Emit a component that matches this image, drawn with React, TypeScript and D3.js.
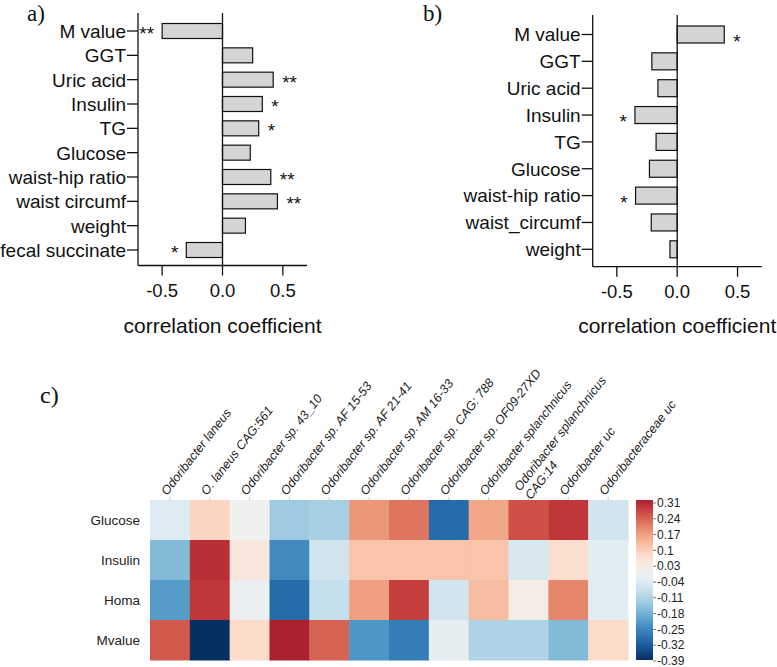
import React from 'react'
import { scaleLinear, scalePoint, scaleBand, scaleDiverging, interpolateRdBu, range } from 'd3'

// panel a
const catsA = ['M value', 'GGT', 'Uric acid', 'Insulin', 'TG', 'Glucose', 'waist-hip ratio', 'waist circumf', 'weight', 'fecal succinate']
const valsA = [-0.5, 0.25, 0.42, 0.33, 0.3, 0.23, 0.4, 0.455, 0.19, -0.3]
const starsA = ['**', '', '**', '*', '*', '', '**', '**', '', '*']

// panel b
const catsB = ['M value', 'GGT', 'Uric acid', 'Insulin', 'TG', 'Glucose', 'waist-hip ratio', 'waist_circumf', 'weight']
const valsB = [0.39, -0.21, -0.16, -0.35, -0.175, -0.23, -0.345, -0.215, -0.06]
const starsB = ['*', '', '', '*', '', '', '*', '', '']

const xTicks = [-0.5, 0, 0.5]

// panel c
const taxa = [
  'Odoribacter laneus',
  'O. laneus CAG:561',
  'Odoribacter sp. 43_10',
  'Odoribacter sp. AF 15-53',
  'Odoribacter sp. AF 21-41',
  'Odoribacter sp. AM 16-33',
  'Odoribacter sp. CAG: 788',
  'Odoribacter sp. OF09-27XD',
  'Odoribacter splanchnicus',
  'Odoribacter splanchnicus\nCAG:14',
  'Odoribacter uc',
  'Odoribacteraceae uc'
]
const traits = ['Glucose', 'Insulin', 'Homa', 'Mvalue']
const glucoseRow = [-0.05, 0.08, -0.01, -0.14, -0.13, 0.17, 0.21, -0.3, 0.15, 0.25, 0.28, -0.07]
const insulinRow = [-0.17, 0.29, 0.04, -0.25, -0.07, 0.11, 0.11, 0.11, 0.11, -0.06, 0.06, -0.04]
const homaRow = [-0.22, 0.28, -0.02, -0.3, -0.09, 0.16, 0.27, -0.07, 0.12, 0.02, 0.19, -0.04]
const mvalueRow = [0.24, -0.39, 0.07, 0.31, 0.23, -0.23, -0.27, -0.03, -0.12, -0.12, -0.17, 0.07]
const cbTicks = [0.31, 0.24, 0.17, 0.1, 0.03, -0.04, -0.11, -0.18, -0.25, -0.32, -0.39]

const SANS = '"Liberation Sans", Arial, sans-serif'
const SERIF = '"Liberation Serif", "Times New Roman", serif'

const fmt = (v: number) => v.toFixed(1)

const BarPanel: React.FC<{
  cats: string[]
  vals: number[]
  stars: string[]
  left: number
  right: number
  top: number
  bottom: number
  first: number
  last: number
  barH: number
  starDy: number
}> = ({ cats, vals, stars, left, right, top, bottom, first, last, barH, starDy }) => {
  const x = scaleLinear().domain([-0.7, 0.7]).range([left, right])
  const y = scalePoint<string>().domain(cats).range([first, last])
  return (
    <g>
      {cats.map((c, i) => {
        const v = vals[i]
        const x0 = x(0)
        const x1 = x(v)
        return (
          <rect
            key={c}
            x={Math.min(x0, x1)}
            y={(y(c) as number) - barH / 2}
            width={Math.abs(x1 - x0)}
            height={barH}
            fill="#d4d4d4"
            stroke="#111"
            strokeWidth={1.2}
          />
        )
      })}
      {cats.map((c, i) =>
        stars[i] ? (
          <text
            key={'s' + c}
            x={vals[i] > 0 ? x(vals[i]) + 9 : x(vals[i]) - 8}
            y={(y(c) as number) + starDy}
            textAnchor={vals[i] > 0 ? 'start' : 'end'}
            fontSize={19}
            fontFamily={SANS}
            fill="#111"
          >
            {stars[i]}
          </text>
        ) : null
      )}
      <g className="axis" stroke="#111" strokeWidth={1.3}>
        <line x1={left} x2={left} y1={top} y2={bottom} />
        <line x1={x(0)} x2={x(0)} y1={top} y2={bottom} />
        <line x1={left} x2={right} y1={bottom} y2={bottom} />
        {xTicks.map((t) => (
          <line key={t} x1={x(t)} x2={x(t)} y1={bottom} y2={bottom + 10} />
        ))}
        {cats.map((c) => (
          <line key={c} x1={left - 11} x2={left} y1={y(c)} y2={y(c)} />
        ))}
      </g>
      {xTicks.map((t) => (
        <text key={t} x={x(t)} y={bottom + 31} textAnchor="middle" fontSize={18.5} fontFamily={SANS} fill="#111">
          {fmt(t)}
        </text>
      ))}
      {cats.map((c) => (
        <text key={c} x={left - 12} y={y(c)} dy="0.36em" textAnchor="end" fontSize={19} fontFamily={SANS} fill="#111">
          {c}
        </text>
      ))}
      <text x={x(0)} y={333} textAnchor="middle" fontSize={21} fontFamily={SANS} fill="#111">
        correlation coefficient
      </text>
    </g>
  )
}

const Heatmap: React.FC = () => {
  const rows = [glucoseRow, insulinRow, homaRow, mvalueRow]
  const x = scaleBand<string>().domain(taxa).range([150, 628])
  const y = scaleBand<string>().domain(traits).range([500, 660])
  const color = scaleDiverging((t: number) => interpolateRdBu(1 - t)).domain([-0.39, 0, 0.39])
  const cb = scaleLinear().domain([-0.39, 0.31]).range([661, 503])
  const stops = range(0, 1.0001, 0.05)
  return (
    <g>
      <defs>
        <linearGradient id="cbgrad" x1={0} x2={0} y1={1} y2={0}>
          {stops.map((s) => (
            <stop key={s} offset={`${s * 100}%`} stopColor={color(-0.39 + s * 0.7)} />
          ))}
        </linearGradient>
      </defs>
      {traits.map((r, ri) =>
        taxa.map((t, ci) => (
          <rect
            key={r + t}
            x={x(t)}
            y={y(r)}
            width={x.bandwidth() + 0.5}
            height={y.bandwidth() + 0.5}
            fill={color(rows[ri][ci])}
          />
        ))
      )}
      {taxa.map((t) => {
        const cx = (x(t) as number) + x.bandwidth() / 2
        const lines = t.split('\n')
        return (
          <g key={t}>
            <line x1={cx} x2={cx} y1={497} y2={500} stroke="#bbb" strokeWidth={0.8} />
            <text
              transform={`translate(${cx - 3},496) rotate(-52)`}
              fontSize={12.5}
              fontStyle="italic"
              fontFamily={SANS}
              fill="#222"
            >
              {lines.map((l, i) => (
                <tspan key={i} x={0} y={(i - (lines.length - 1) / 2) * 14}>
                  {l}
                </tspan>
              ))}
            </text>
          </g>
        )
      })}
      {traits.map((r) => (
        <text
          key={r}
          x={140}
          y={(y(r) as number) + y.bandwidth() / 2}
          dy="0.35em"
          textAnchor="end"
          fontSize={13.5}
          fontFamily={SANS}
          fill="#222"
        >
          {r}
        </text>
      ))}
      <rect x={636} y={500} width={17} height={160} fill="url(#cbgrad)" />
      {cbTicks.map((v) => (
        <g key={v}>
          <line x1={653} x2={656} y1={cb(v)} y2={cb(v)} stroke="#555" strokeWidth={0.8} />
          <text x={657} y={cb(v)} dy="0.35em" fontSize={12} fontFamily={SANS} fill="#222">
            {String(v)}
          </text>
        </g>
      ))}
    </g>
  )
}

export default function App() {
  return (
    <svg width={777} height={667} style={{ position: 'absolute', left: 0, top: 0, background: '#fff' }}>
      <rect width={777} height={667} fill="#fff" />
      <text x={27} y={21} fontSize={23} fontFamily={SERIF} fill="#111">
        a)
      </text>
      <text x={423} y={21} fontSize={23} fontFamily={SERIF} fill="#111">
        b)
      </text>
      <text x={40} y={403} fontSize={24} fontFamily={SERIF} fill="#111">
        c)
      </text>
      <BarPanel
        cats={catsA}
        vals={valsA}
        stars={starsA}
        left={138}
        right={307}
        top={13}
        bottom={265.5}
        first={31}
        last={250}
        barH={15}
        starDy={9}
      />
      <BarPanel
        cats={catsB}
        vals={valsB}
        stars={starsB}
        left={592.7}
        right={761.7}
        top={15}
        bottom={266.7}
        first={34.5}
        last={249.3}
        barH={17}
        starDy={13}
      />
      <Heatmap />
    </svg>
  )
}
